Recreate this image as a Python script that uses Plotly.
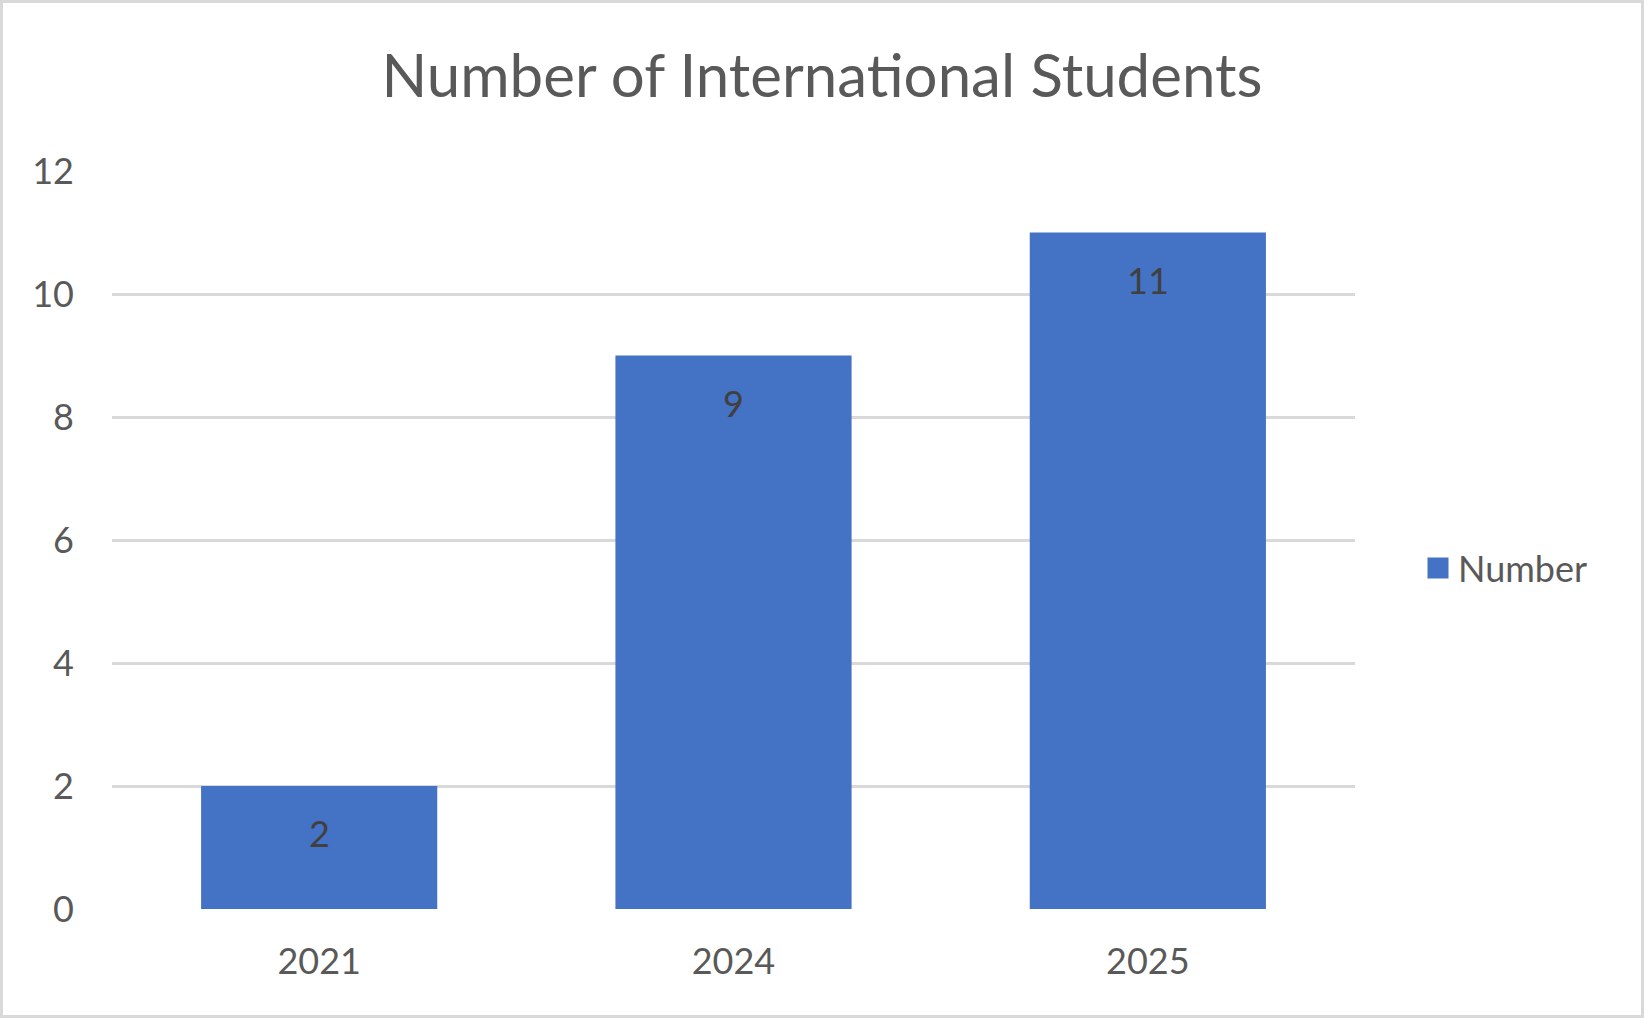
import plotly.graph_objects as go

# chart data
years = ["2021", "2024", "2025"]
students = [2, 9, 11]
y_ticks = [0, 2, 4, 6, 8, 10, 12]

W, H = 1644, 1018
left, right, top, bottom = 112, 289, 171, 109
plot_w = W - left - right
plot_h = H - top - bottom
bar_color = "#4472C4"

fig = go.Figure()
fig.add_trace(go.Bar(
    x=years, y=students, name="Number", showlegend=False,
    marker=dict(color=bar_color, line=dict(width=0)),
    hoverinfo="x+y",
))
# legend-only entry so the swatch can be bigger than the 12px bar swatch
fig.add_trace(go.Scatter(
    x=[None], y=[None], mode="markers", name="Number", hoverinfo="skip",
    marker=dict(symbol="square", size=16, color=bar_color,
                line=dict(width=5, color=bar_color)),
))

# data labels just under the top of each bar
# (category index for x, a "2021" string would be read as the number 2021)
for i, val in enumerate(students):
    fig.add_annotation(x=i, y=val, text=str(val), showarrow=False,
                       yshift=-47, yanchor="middle",
                       font=dict(family="Lato", size=36, color="#404040"))

# light grey chart border
fig.add_shape(type="rect", xref="paper", yref="paper",
              x0=-(left - 1.5) / plot_w, x1=(W - left - 1.5) / plot_w,
              y0=-(bottom - 1.5) / plot_h, y1=(H - bottom - 1.5) / plot_h,
              line=dict(color="#D9D9D9", width=3), layer="below")

fig.update_layout(
    width=W, height=H,
    margin=dict(l=left, r=right, t=top, b=bottom, pad=0),
    paper_bgcolor="white", plot_bgcolor="white",
    font=dict(family="Lato", size=36, color="#595959"),
    title=dict(text="Number of International Students", x=822 / W, xanchor="center",
               y=1 - 76 / H, yanchor="middle", yref="container",
               font=dict(family="Lato", size=60, color="#595959")),
    bargap=0.43,
    showlegend=True,
    legend=dict(x=(1418 - left) / plot_w, xanchor="left", y=0.462, yanchor="middle",
                font=dict(family="Lato", size=36, color="#595959"),
                bgcolor="rgba(0,0,0,0)"),
)
fig.update_xaxes(type="category", range=[-0.5, len(years) - 0.5], showgrid=False,
                 showline=False, zeroline=False, ticks="", ticklabelstandoff=28)
fig.update_yaxes(range=[0, 12], tickvals=y_ticks, showgrid=True, gridcolor="#D9D9D9",
                 gridwidth=2.5, zeroline=False, showline=False, ticks="",
                 ticklabelstandoff=37)

fig.write_html("out.html", config={"displayModeBar": False},
               post_script="document.body.style.margin='0';")
